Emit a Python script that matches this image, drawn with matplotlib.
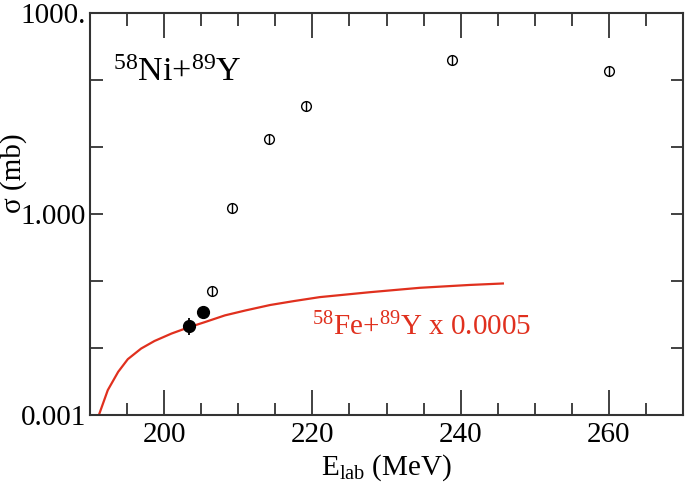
import matplotlib
matplotlib.use("Agg")
import matplotlib.pyplot as plt
from matplotlib.ticker import FixedLocator, NullFormatter, FixedFormatter

plt.rcParams['font.family'] = ['Liberation Serif', 'DejaVu Serif']
plt.rcParams['mathtext.fontset'] = 'custom'
plt.rcParams['mathtext.rm'] = 'Liberation Serif'
plt.rcParams['mathtext.it'] = 'Liberation Serif:italic'

# Open circles (58Ni+89Y)
open_e = [206.5, 209.1, 214.2, 219.1, 238.8, 260.0]
open_sig = [0.070, 1.24, 12.9, 40.0, 200.0, 137.0]

# Filled circles
fill_e = [203.4, 205.3]
fill_sig = [0.0216, 0.034]
fill_lo = [0.0155, 0.034]
fill_hi = [0.0276, 0.034]

# Red curve (58Fe+89Y x 0.0005)
curve_e = [191.2, 192.4, 193.8, 195.1, 196.9, 198.7, 201.0, 203.2, 205.5,
           208.2, 211.0, 214.3, 217.5, 221.0, 227.8, 234.5, 241.2, 245.7]
curve_sig = [0.001, 0.00235, 0.0044, 0.0068, 0.0098, 0.0127, 0.0164, 0.0201, 0.0243,
             0.0306, 0.0363, 0.0437, 0.0500, 0.0573, 0.0679, 0.0789, 0.0870, 0.0915]

ytick_vals = [0.001, 0.01, 0.1, 1, 10, 100, 1000]
ytick_labels = ['0.001', '', '', '1.000', '', '', '1000.']
xtick_major = [200, 220, 240, 260]

fig = plt.figure(figsize=(6.85, 4.91), dpi=100)
ax = fig.add_axes([90/685, 1-415/491, 593/685, (415-12.7)/491])

red = '#e0301e'
ax.plot(curve_e, curve_sig, color=red, lw=1.6, zorder=2)

# open circles with a vertical bar through them
ax.plot(open_e, open_sig, linestyle='none', marker='o', ms=7, mfc='white',
        mec='black', mew=1.0, zorder=3)
ax.plot(open_e, open_sig, linestyle='none', marker='|', ms=7, mec='black',
        mew=1.0, zorder=4)

# filled circles with error bars
yerr = [[s - lo for s, lo in zip(fill_sig, fill_lo)],
        [hi - s for s, hi in zip(fill_sig, fill_hi)]]
ax.errorbar(fill_e, fill_sig, yerr=yerr, fmt='o', color='black', ms=8.5,
            elinewidth=1.3, capsize=0, zorder=5)

ax.set_yscale('log')
ax.set_xlim(190, 270)
ax.set_ylim(0.001, 1000)

ax.yaxis.set_major_locator(FixedLocator(ytick_vals))
ax.yaxis.set_major_formatter(FixedFormatter(ytick_labels))
ax.yaxis.set_minor_locator(FixedLocator([]))
ax.yaxis.set_minor_formatter(NullFormatter())
ax.xaxis.set_major_locator(FixedLocator(xtick_major))
ax.xaxis.set_minor_locator(FixedLocator(list(range(195, 270, 5))))

ax.tick_params(axis='both', which='both', direction='in', top=True, right=True,
               width=1.3, color='#333333', labelsize=21)
ax.tick_params(axis='x', which='major', length=18, pad=5)
ax.tick_params(axis='x', which='minor', length=9)
ax.tick_params(axis='y', which='major', length=9, pad=3)
for s in ax.spines.values():
    s.set_linewidth(1.5)
    s.set_color('#333333')

ax.set_xlabel(r'E$_{\mathrm{lab}}$ (MeV)', fontsize=21, labelpad=3)
ax.set_ylabel('σ (mb)', fontsize=21)
ax.yaxis.set_label_coords(-0.106, 0.60)

ax.text(0.038, 0.83, r'$^{58}$Ni+$^{89}$Y', transform=ax.transAxes,
        fontsize=24.5, color='black')
ax.text(0.375, 0.197, r'$^{58}$Fe+$^{89}$Y x 0.0005', transform=ax.transAxes,
        fontsize=21, color=red)

fig.savefig('out.png', dpi=100)
